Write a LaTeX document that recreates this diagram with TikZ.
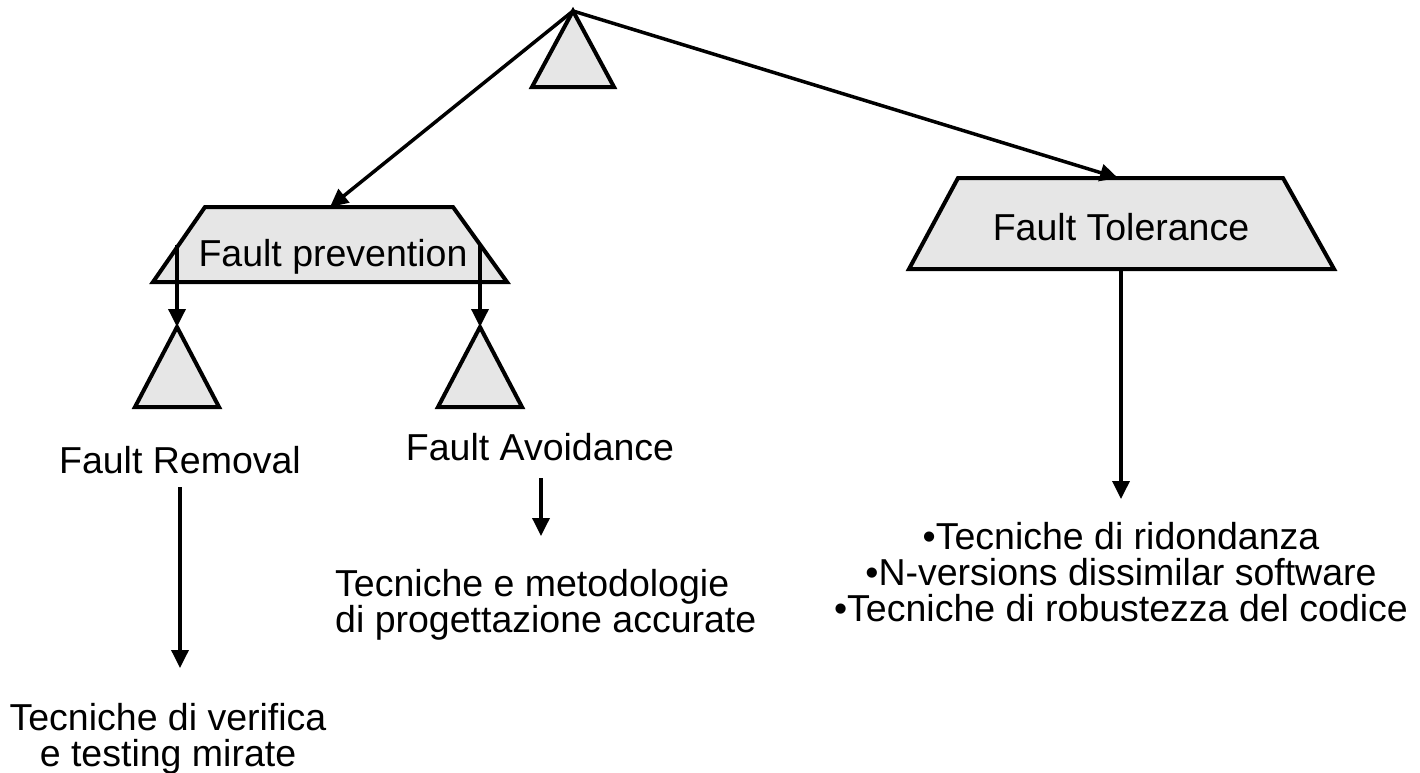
\documentclass[tikz,border=0pt]{standalone}
\usepackage{fontspec}
\setmainfont{Liberation Sans}
\usetikzlibrary{arrows.meta}
\definecolor{shapegray}{RGB}{230,230,230}
\begin{document}
\begin{tikzpicture}[x=1pt,y=-1pt,
  every node/.style={font=\fontsize{37.5}{36}\selectfont, inner sep=0pt},
  shapeline/.style={draw=black, line width=4pt, fill=shapegray, line join=miter},
  link/.style={draw=black, line width=3.5pt, -{Triangle[length=18pt,width=17pt]}},
]
\useasboundingbox (0,0) rectangle (1420,772);

% root marker
\coordinate (root) at (573,11);
\draw[shapeline] (root) -- (532,87) -- (614,87) -- cycle;

% Fault prevention block
\draw[shapeline] (205,207) -- (453,207) -- (507,282) -- (153,282) -- cycle;
\node[anchor=base] (prev) at (333,266) {Fault prevention};
\coordinate (prevTop) at (330,207);

% Fault Tolerance block
\draw[shapeline] (958,178) -- (1283,178) -- (1334,269) -- (909,269) -- cycle;
\node[anchor=base] (tol) at (1121,240) {Fault Tolerance};
\coordinate (tolTop) at (1118,178);
\coordinate (tolBot) at (1121,269);

\draw[link] (root) -- (prevTop);
\draw[link] (root) -- (tolTop);

% sub-branch markers
\coordinate (remApex) at (177,327);
\coordinate (avoApex) at (480,327);
\draw[shapeline] (remApex) -- (135,407) -- (219,407) -- cycle;
\draw[shapeline] (avoApex) -- (438,407) -- (522,407) -- cycle;
\coordinate (remFrom) at (177,245);
\coordinate (avoFrom) at (480,245);
\draw[link] (remFrom) -- (remApex);
\draw[link] (avoFrom) -- (avoApex);

% Fault Removal
\node[anchor=base] (rem) at (180,473) {Fault Removal};
\coordinate (remA) at (180,487);
\coordinate (remB) at (180,668);
\draw[link] (remA) -- (remB);
\node[anchor=north, align=center] (remTxt) at (168,703) {Tecniche di verifica\\e testing mirate};

% Fault Avoidance
\node[anchor=base] (avo) at (540,460) {Fault Avoidance};
\coordinate (avoA) at (541,478);
\coordinate (avoB) at (541,536);
\draw[link] (avoA) -- (avoB);
\node[anchor=north west, align=left] (avoTxt) at (335,569) {Tecniche e metodologie\\di progettazione accurate};

% Fault Tolerance techniques
\coordinate (tolEnd) at (1121,499);
\draw[link] (tolBot) -- (tolEnd);
\node[anchor=north, align=center] (tolTxt) at (1121,522) {•Tecniche di ridondanza\\•N-versions dissimilar software\\•Tecniche di robustezza del codice};
\end{tikzpicture}
\end{document}
